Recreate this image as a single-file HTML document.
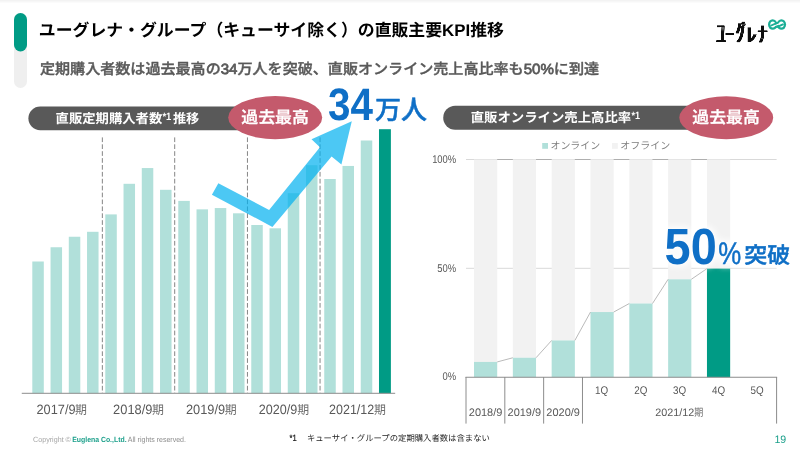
<!DOCTYPE html>
<html lang="ja">
<head>
<meta charset="utf-8">
<title>ユーグレナ・グループ（キューサイ除く）の直販主要KPI推移</title>
<style>
html,body{margin:0;padding:0;background:#fff}
body{width:800px;height:449px;overflow:hidden;position:relative;font-family:"Liberation Sans","Noto Sans CJK JP",sans-serif}
svg{position:absolute;left:0;top:0;display:block}
text{font-family:"Liberation Sans","Noto Sans CJK JP",sans-serif;white-space:pre;text-rendering:geometricPrecision}
</style>
</head>
<body>
<svg width="800" height="449" viewBox="0 0 800 449" role="img" aria-label="ユーグレナ・グループ（キューサイ除く）の直販主要KPI推移">
<defs>
<linearGradient id="topsh" x1="0" y1="0" x2="0" y2="1"><stop offset="0" stop-color="#f1f1f1"/><stop offset="1" stop-color="#ffffff"/></linearGradient>
<filter id="glow" x="-15%" y="-50%" width="130%" height="200%" color-interpolation-filters="sRGB">
<feMorphology in="SourceAlpha" operator="dilate" radius="2" result="d"/>
<feGaussianBlur in="d" stdDeviation="3.5" result="b"/>
<feComponentTransfer in="b" result="b2"><feFuncA type="linear" slope="1.3"/></feComponentTransfer>
<feFlood flood-color="#ffffff" flood-opacity="0.78" result="w"/>
<feComposite in="w" in2="b2" operator="in" result="g"/>
<feMerge><feMergeNode in="g"/><feMergeNode in="SourceGraphic"/></feMerge>
</filter>
<filter id="thick" x="-5%" y="-5%" width="110%" height="110%"><feComponentTransfer><feFuncA type="linear" slope="2.6"/></feComponentTransfer><feMorphology operator="dilate" radius="0.8 0"/></filter>
</defs>
<rect x="0" y="0" width="800" height="449" fill="#fff"/>
<rect x="0" y="0" width="800" height="3.5" fill="url(#topsh)"/>

<g id="header">
<rect x="14" y="13" width="13" height="75" rx="6.5" fill="#EFEFEF"/>
<rect x="14" y="13" width="13" height="38.4" rx="6.5" fill="#009B85"/>
<text x="38.82" y="36.00" font-size="16.86" font-weight="700" fill="#000">ユーグレナ・グループ（キューサイ除く）の直販主要KPI推移</text>
<text transform="translate(39.94 74.00) scale(1 0.977)" font-size="15.07" font-weight="500" fill="#595959" stroke="#595959" stroke-width="0.4" stroke-linejoin="round">定期購入者数は過去最高の<tspan stroke-width="0.75">34</tspan>万人を突破、直販オンライン売上高比率も<tspan stroke-width="0.75">50%</tspan>に到達</text>
</g>
<g id="logo">
<g filter="url(#thick)"><text transform="translate(716.87 44.00) scale(1 3.266)" font-size="8.58" font-weight="300" fill="#111">ユ</text><text transform="translate(725.99 47.00) scale(1 4.604)" font-size="7.39" font-weight="300" fill="#111">ー</text><text transform="translate(736.30 41.00) scale(1 2.715)" font-size="8.61" font-weight="300" fill="#111">グ</text><text transform="translate(746.40 42.00) scale(1 2.021)" font-size="9.84" font-weight="300" fill="#111">レ</text><text transform="translate(757.94 42.00) scale(1 2.362)" font-size="8.99" font-weight="300" fill="#111">ナ</text></g>
<g fill="#1BAE96">
<ellipse cx="772.65" cy="24.5" rx="4.65" ry="5.2"/>
<ellipse cx="781.45" cy="24.5" rx="4.65" ry="5.2"/>
<ellipse cx="772.75" cy="24.5" rx="2.45" ry="2.95" fill="#fff"/>
<ellipse cx="781.35" cy="24.5" rx="2.45" ry="2.95" fill="#fff"/>
<path d="M774.2 25.75 L779.9 23.55" fill="none" stroke="#fff" stroke-width="1.3"/>
<path d="M771.2 25.5 L777.2 22.8 M776.9 27.2 L782.9 24.4" fill="none" stroke="#1BAE96" stroke-width="1.9" stroke-linecap="round"/>
</g>
</g>
<g id="chart-left">
<rect x="32.30" y="261.50" width="11.50" height="131.75" fill="#B1E0DA"/>
<rect x="50.55" y="247.25" width="11.50" height="146.00" fill="#B1E0DA"/>
<rect x="68.79" y="236.75" width="11.50" height="156.50" fill="#B1E0DA"/>
<rect x="87.04" y="231.80" width="11.50" height="161.45" fill="#B1E0DA"/>
<rect x="105.29" y="214.40" width="11.50" height="178.85" fill="#B1E0DA"/>
<rect x="123.53" y="183.80" width="11.50" height="209.45" fill="#B1E0DA"/>
<rect x="141.78" y="168.05" width="11.50" height="225.20" fill="#B1E0DA"/>
<rect x="160.03" y="189.80" width="11.50" height="203.45" fill="#B1E0DA"/>
<rect x="178.28" y="200.90" width="11.50" height="192.35" fill="#B1E0DA"/>
<rect x="196.52" y="209.35" width="11.50" height="183.90" fill="#B1E0DA"/>
<rect x="214.77" y="208.05" width="11.50" height="185.20" fill="#B1E0DA"/>
<rect x="233.02" y="213.30" width="11.50" height="179.95" fill="#B1E0DA"/>
<rect x="251.26" y="225.00" width="11.50" height="168.25" fill="#B1E0DA"/>
<rect x="269.51" y="228.30" width="11.50" height="164.95" fill="#B1E0DA"/>
<rect x="287.76" y="193.20" width="11.50" height="200.05" fill="#B1E0DA"/>
<rect x="306.00" y="165.20" width="11.50" height="228.05" fill="#B1E0DA"/>
<rect x="324.25" y="179.00" width="11.50" height="214.25" fill="#B1E0DA"/>
<rect x="342.50" y="165.95" width="11.50" height="227.30" fill="#B1E0DA"/>
<rect x="360.75" y="140.50" width="11.50" height="252.75" fill="#B1E0DA"/>
<rect x="378.99" y="129.20" width="11.90" height="264.05" fill="#009B85"/>
<line x1="102.35" y1="137.4" x2="102.35" y2="393" stroke="#666666" stroke-width="0.8" stroke-dasharray="4.7 2.2"/>
<line x1="174.70" y1="137.4" x2="174.70" y2="393" stroke="#666666" stroke-width="0.8" stroke-dasharray="4.7 2.2"/>
<line x1="247.45" y1="137.4" x2="247.45" y2="393" stroke="#666666" stroke-width="0.8" stroke-dasharray="4.7 2.2"/>
<line x1="320.05" y1="137.4" x2="320.05" y2="393" stroke="#666666" stroke-width="0.8" stroke-dasharray="4.7 2.2"/>
<line x1="21.75" y1="393.3" x2="395.2" y2="393.3" stroke="#8c8c8c" stroke-width="1"/>
<g><text transform="translate(36.52 414.00) scale(1 1.059)" font-size="12.75" font-weight="400" fill="#595959">2017/9</text><text x="75.12" y="414.00" font-size="11.95" font-weight="400" fill="#6e6e6e">期</text></g>
<g><text transform="translate(113.11 414.00) scale(1 1.052)" font-size="12.84" font-weight="400" fill="#595959">2018/9</text><text x="152.04" y="414.00" font-size="11.95" font-weight="400" fill="#6e6e6e">期</text></g>
<g><text transform="translate(185.95 414.00) scale(1 1.056)" font-size="12.79" font-weight="400" fill="#595959">2019/9</text><text x="224.79" y="414.00" font-size="11.95" font-weight="400" fill="#6e6e6e">期</text></g>
<g><text transform="translate(258.75 414.00) scale(1 1.072)" font-size="12.60" font-weight="400" fill="#595959">2020/9</text><text x="297.19" y="414.00" font-size="11.95" font-weight="400" fill="#6e6e6e">期</text></g>
<g><text transform="translate(329.02 414.00) scale(1 1.081)" font-size="12.50" font-weight="400" fill="#595959">2021/12</text><text x="374.04" y="414.00" font-size="11.95" font-weight="400" fill="#6e6e6e">期</text></g>
<rect x="28.4" y="106.5" width="250" height="23.7" rx="11.85" fill="#595959"/>
<g><text transform="translate(55.62 123.00) scale(1 0.979)" font-size="13.34" font-weight="700" fill="#fff">直販定期購入者数</text><text transform="translate(162.43 120.00) scale(1 1.114)" font-size="9.44" font-weight="700" fill="#fff">*1</text><text transform="translate(172.88 123.00) scale(1 0.980)" font-size="13.20" font-weight="700" fill="#fff">推移</text></g>
<ellipse cx="275.2" cy="117.6" rx="47" ry="21.6" fill="#C45A6C"/>
<text transform="translate(241.21 123.00) scale(1 0.972)" font-size="16.94" font-weight="500" fill="#fff" stroke="#fff" stroke-width="0.35" stroke-linejoin="round">過去最高</text>
<path d="M218.35 183.2 L269.1 209.9 L319.95 147.2 L311.5 139.3 L351.8 121.2 L341.4 164.4 L331.6 156.6 L272.4 226.9 L211.9 194.7 Z" fill="#00B0F0" fill-opacity="0.7"/>
<g><text transform="translate(328.08 120.00) scale(1 1.123)" font-size="40.41" font-weight="700" fill="#0F6FC6">34</text><text x="374.92" y="119.00" font-size="26.06" font-weight="500" fill="#0F6FC6" stroke="#0F6FC6" stroke-width="0.5" stroke-linejoin="round">万人</text></g>
</g>
<g id="chart-right">
<line x1="466.00" y1="159.50" x2="776.60" y2="159.50" stroke="#D9D9D9" stroke-width="1"/>
<line x1="466.00" y1="268.30" x2="776.60" y2="268.30" stroke="#D9D9D9" stroke-width="1"/>
<rect x="474.01" y="159.50" width="23.20" height="202.45" fill="#F2F2F2"/>
<rect x="474.01" y="361.95" width="23.20" height="15.25" fill="#B1E0DA"/>
<rect x="512.84" y="159.50" width="23.20" height="198.25" fill="#F2F2F2"/>
<rect x="512.84" y="357.75" width="23.20" height="19.45" fill="#B1E0DA"/>
<rect x="551.66" y="159.50" width="23.20" height="180.95" fill="#F2F2F2"/>
<rect x="551.66" y="340.45" width="23.20" height="36.75" fill="#B1E0DA"/>
<rect x="590.49" y="159.50" width="23.20" height="152.55" fill="#F2F2F2"/>
<rect x="590.49" y="312.05" width="23.20" height="65.15" fill="#B1E0DA"/>
<rect x="629.31" y="159.50" width="23.20" height="144.00" fill="#F2F2F2"/>
<rect x="629.31" y="303.50" width="23.20" height="73.70" fill="#B1E0DA"/>
<rect x="668.14" y="159.50" width="23.20" height="119.80" fill="#F2F2F2"/>
<rect x="668.14" y="279.30" width="23.20" height="97.90" fill="#B1E0DA"/>
<rect x="706.96" y="159.50" width="23.20" height="109.10" fill="#F2F2F2"/>
<rect x="706.96" y="268.60" width="23.20" height="108.60" fill="#009B85"/>
<line x1="497.21" y1="361.95" x2="512.84" y2="357.75" stroke="#9c9c9c" stroke-width="0.7"/>
<line x1="497.21" y1="159.50" x2="512.84" y2="159.50" stroke="#9c9c9c" stroke-width="0.7"/>
<line x1="536.04" y1="357.75" x2="551.66" y2="340.45" stroke="#9c9c9c" stroke-width="0.7"/>
<line x1="536.04" y1="159.50" x2="551.66" y2="159.50" stroke="#9c9c9c" stroke-width="0.7"/>
<line x1="574.86" y1="340.45" x2="590.49" y2="312.05" stroke="#9c9c9c" stroke-width="0.7"/>
<line x1="574.86" y1="159.50" x2="590.49" y2="159.50" stroke="#9c9c9c" stroke-width="0.7"/>
<line x1="613.69" y1="312.05" x2="629.31" y2="303.50" stroke="#9c9c9c" stroke-width="0.7"/>
<line x1="613.69" y1="159.50" x2="629.31" y2="159.50" stroke="#9c9c9c" stroke-width="0.7"/>
<line x1="652.51" y1="303.50" x2="668.14" y2="279.30" stroke="#9c9c9c" stroke-width="0.7"/>
<line x1="652.51" y1="159.50" x2="668.14" y2="159.50" stroke="#9c9c9c" stroke-width="0.7"/>
<line x1="691.34" y1="279.30" x2="706.96" y2="268.60" stroke="#9c9c9c" stroke-width="0.7"/>
<line x1="691.34" y1="159.50" x2="706.96" y2="159.50" stroke="#9c9c9c" stroke-width="0.7"/>
<line x1="465.50" y1="377.25" x2="777.10" y2="377.25" stroke="#8c8c8c" stroke-width="1"/>
<line x1="466.00" y1="377" x2="466.00" y2="423.6" stroke="#8c8c8c" stroke-width="1"/>
<line x1="504.82" y1="377" x2="504.82" y2="423.6" stroke="#8c8c8c" stroke-width="1"/>
<line x1="543.65" y1="377" x2="543.65" y2="423.6" stroke="#8c8c8c" stroke-width="1"/>
<line x1="582.48" y1="377" x2="582.48" y2="423.6" stroke="#8c8c8c" stroke-width="1"/>
<line x1="776.60" y1="377" x2="776.60" y2="423.6" stroke="#8c8c8c" stroke-width="1"/>
<text transform="translate(432.14 163.00) scale(1 1.184)" font-size="9.42" font-weight="400" fill="#595959">100%</text>
<text transform="translate(437.29 272.00) scale(1 1.184)" font-size="9.42" font-weight="400" fill="#595959">50%</text>
<text transform="translate(442.50 380.00) scale(1 1.184)" font-size="9.42" font-weight="400" fill="#595959">0%</text>
<text transform="translate(595.08 394.00) scale(1 1.126)" font-size="9.84" font-weight="400" fill="#595959">1Q</text>
<text transform="translate(634.23 394.00) scale(1 1.126)" font-size="9.84" font-weight="400" fill="#595959">2Q</text>
<text transform="translate(673.01 394.00) scale(1 1.126)" font-size="9.84" font-weight="400" fill="#595959">3Q</text>
<text transform="translate(711.96 394.00) scale(1 1.126)" font-size="9.84" font-weight="400" fill="#595959">4Q</text>
<text transform="translate(750.45 394.00) scale(1 1.126)" font-size="9.84" font-weight="400" fill="#595959">5Q</text>
<text x="468.80" y="416.00" font-size="10.96" font-weight="400" fill="#595959">2018/9</text>
<text x="507.55" y="416.00" font-size="10.96" font-weight="400" fill="#595959">2019/9</text>
<text x="546.37" y="416.00" font-size="10.96" font-weight="400" fill="#595959">2020/9</text>
<g><text x="655.23" y="416.00" font-size="10.77" font-weight="400" fill="#595959">2021/12</text><text transform="translate(694.31 416.00) scale(1 1.162)" font-size="9.04" font-weight="400" fill="#6e6e6e">期</text></g>
<rect x="542.2" y="143" width="5.8" height="5.8" fill="#B1E0DA"/>
<text x="550.49" y="149.00" font-size="9.95" font-weight="400" fill="#7f7f7f">オンライン</text>
<rect x="612" y="143" width="5.8" height="5.8" fill="#F2F2F2"/>
<text x="620.33" y="149.00" font-size="10.00" font-weight="400" fill="#7f7f7f">オフライン</text>
<rect x="443.2" y="105.8" width="290" height="24" rx="12" fill="#595959"/>
<g><text transform="translate(470.64 122.00) scale(1 0.972)" font-size="13.39" font-weight="700" fill="#fff">直販オンライン売上高比率</text><text transform="translate(631.39 119.00) scale(1 1.154)" font-size="9.11" font-weight="700" fill="#fff">*1</text></g>
<ellipse cx="726.25" cy="117.75" rx="46.95" ry="21.5" fill="#C45A6C"/>
<text transform="translate(692.30 123.00) scale(1 0.976)" font-size="16.86" font-weight="500" fill="#fff" stroke="#fff" stroke-width="0.35" stroke-linejoin="round">過去最高</text>
<g filter="url(#glow)"><text transform="translate(664.59 264.00) scale(1 1.083)" font-size="46.87" font-weight="700" fill="#0F6FC6">50</text><text transform="translate(718.33 264.00) scale(1 1.211)" font-size="25.82" font-weight="400" fill="#0F6FC6" stroke="#0F6FC6" stroke-width="0.4" stroke-linejoin="round">%</text><text transform="translate(744.36 263.00) scale(1 0.972)" font-size="22.97" font-weight="500" fill="#0F6FC6" stroke="#0F6FC6" stroke-width="0.5" stroke-linejoin="round">突破</text></g>
</g>
<g id="footer">
<g><text transform="translate(33.06 442.00) scale(1 1.047)" font-size="7.15" font-weight="400" fill="#A6A6A6">Copyright © </text><text transform="translate(72.22 442.00) scale(1 1.086)" font-size="6.90" font-weight="700" fill="#1A9F8A">Euglena Co.,Ltd.</text><text transform="translate(126.29 442.00) scale(1 1.067)" font-size="7.02" font-weight="400" fill="#8c8c8c"> All rights reserved.</text></g>
<g><text transform="translate(289.47 441.00) scale(1 1.190)" font-size="7.55" font-weight="400" fill="#1a1a1a" stroke="#1a1a1a" stroke-width="0.2" stroke-linejoin="round">*1</text><text x="298.60" y="441.00" font-size="8.35" font-weight="400" fill="#262626">　キューサイ・グループの定期購入者数は含まない</text></g>
<text transform="translate(774.39 443.00) scale(1 1.031)" font-size="10.60" font-weight="400" fill="#1A9F8A">19</text>
</g>
</svg>
</body>
</html>
